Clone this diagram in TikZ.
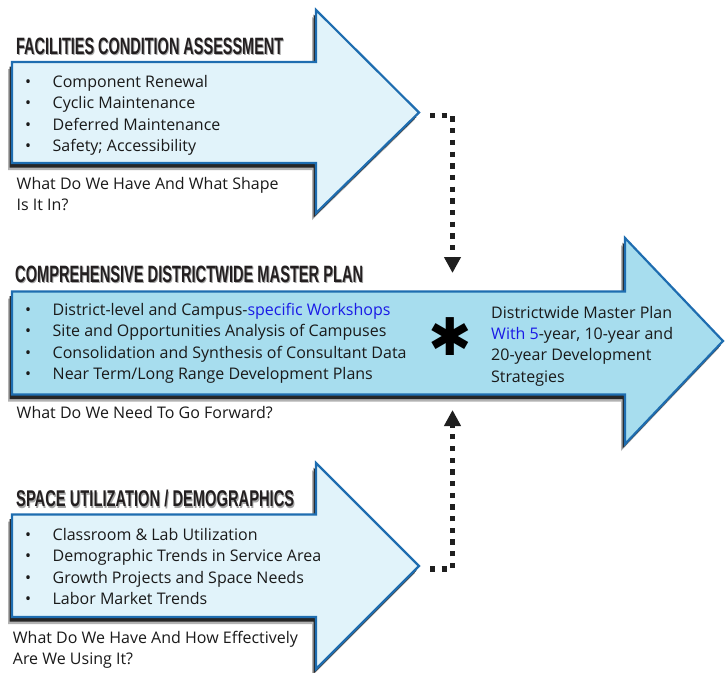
\documentclass[tikz,border=0pt]{standalone}
\usepackage{fontspec}
\setmainfont{Open Sans}
\newfontfamily\hdrfont{Liberation Sans}
\newfontfamily\symfont{DejaVu Sans}
\usetikzlibrary{arrows.meta}
\definecolor{arrowline}{HTML}{1E6DB0}
\definecolor{lightfill}{HTML}{E1F3FA}
\definecolor{midfill}{HTML}{A7DDEE}
\definecolor{hdrcol}{HTML}{231F20}
\definecolor{txtcol}{HTML}{1A1A1A}
\definecolor{linkblue}{HTML}{1A1AE6}
% #1 fill, #2 L, #3 T, #4 H, #5 B, #6 HT, #7 HB, #8 X, #9 Y
\newcommand\drawbigarrow[9]{%
  \fill[black!30, shift={(-4,7)}] (#2,#3) -- (#4,#3) -- (#4,#6) -- (#8,#9) -- (#4,#7) -- (#4,#5) -- (#2,#5) -- cycle;
  \fill[black!85, shift={(-2.5,4.5)}] (#2,#3) -- (#4,#3) -- (#4,#6) -- (#8,#9) -- (#4,#7) -- (#4,#5) -- (#2,#5) -- cycle;
  \filldraw[fill=#1, draw=arrowline, line width=2.2pt, line join=miter] (#2,#3) -- (#4,#3) -- (#4,#6) -- (#8,#9) -- (#4,#7) -- (#4,#5) -- (#2,#5) -- cycle;
}
\newcommand\hdrtext[2]{\resizebox{#1}{16.5pt}{\hdrfont\bfseries #2}}
\newcommand\bul{\makebox[27.5pt][l]{\textbullet}}
\tikzset{
  item/.style={anchor=base west, inner sep=0pt, text=txtcol, font=\fontsize{16}{19}\selectfont},
  hdr/.style={anchor=base west, inner sep=0pt, text=hdrcol},
  hdrshadow/.style={anchor=base west, inner sep=0pt, text=black, opacity=0.35},
  dotline/.style={line width=5.3pt, dash pattern=on 5.3pt off 6.4pt, draw=black!88,
    -{Triangle[width=16pt,length=16pt]}}
}
\begin{document}
\begin{tikzpicture}[x=1pt,y=-1pt]
\useasboundingbox (0,0) rectangle (725,672);
\fill[white] (0,0) rectangle (725,672);

% arrows
\drawbigarrow{lightfill}{12}{62}{316}{163}{10}{213}{419}{112.5}
\drawbigarrow{midfill}{12}{291.5}{625}{394.5}{238}{444}{723}{341}
\drawbigarrow{lightfill}{12}{514.5}{316}{617}{463}{669}{419}{566}

% headers
\node[hdrshadow] (h1s) at (17,55.5) {\hdrtext{267pt}{FACILITIES CONDITION ASSESSMENT}};
\node[hdr] (h1) at (16,54) {\hdrtext{267pt}{FACILITIES CONDITION ASSESSMENT}};
\node[hdrshadow] (h2s) at (16,283.8) {\hdrtext{348pt}{COMPREHENSIVE DISTRICTWIDE MASTER PLAN}};
\node[hdr] (h2) at (15,282.3) {\hdrtext{348pt}{COMPREHENSIVE DISTRICTWIDE MASTER PLAN}};
\node[hdrshadow] (h3s) at (17,508.2) {\hdrtext{278pt}{SPACE UTILIZATION / DEMOGRAPHICS}};
\node[hdr] (h3) at (16,506.7) {\hdrtext{278pt}{SPACE UTILIZATION / DEMOGRAPHICS}};

% top list
\node[item] (a1) at (25,87) {\bul Component Renewal};
\node[item] (a2) at (25,108.6) {\bul Cyclic Maintenance};
\node[item] (a3) at (25,130.2) {\bul Deferred Maintenance};
\node[item] (a4) at (25,151.8) {\bul Safety; Accessibility};
\node[item] (qa1) at (16.5,189.3) {What Do We Have And What Shape};
\node[item] (qa2) at (16.5,210.5) {Is It In?};

% middle list
\node[item] (b1) at (25,315) {\bul District-level and Campus-\textcolor{linkblue}{specific Workshops}};
\node[item] (b2) at (25,336.6) {\bul Site and Opportunities Analysis of Campuses};
\node[item] (b3) at (25,358.2) {\bul Consolidation and Synthesis of Consultant Data};
\node[item] (b4) at (25,379.8) {\bul Near Term/Long Range Development Plans};
\node[item] (r1) at (491,318.3) {Districtwide Master Plan};
\node[item] (r2) at (491,339.6) {\textcolor{linkblue}{With 5}-year, 10-year and};
\node[item] (r3) at (491,360.9) {20-year Development};
\node[item] (r4) at (491,382.2) {Strategies};
\node[inner sep=0pt, text=black, font=\symfont\fontsize{52}{52}\selectfont] (ast) at (450,337) {✱};
\node[item] (qb) at (16.5,418.3) {What Do We Need To Go Forward?};

% bottom list
\node[item] (c1) at (25,540) {\bul Classroom \& Lab Utilization};
\node[item] (c2) at (25,561.6) {\bul Demographic Trends in Service Area};
\node[item] (c3) at (25,583.2) {\bul Growth Projects and Space Needs};
\node[item] (c4) at (25,604.8) {\bul Labor Market Trends};
\node[item] (qc1) at (12.7,643.3) {What Do We Have And How Effectively};
\node[item] (qc2) at (12.7,664) {Are We Using It?};

% connectors
\coordinate (tipA) at (430,115.5);
\coordinate (inB1) at (452.5,273);
\coordinate (tipC) at (430,569);
\coordinate (inB2) at (452.5,410);
\draw[dotline] (tipA) -| (inB1);
\draw[dotline] (tipC) -| (inB2);
\end{tikzpicture}
\end{document}
